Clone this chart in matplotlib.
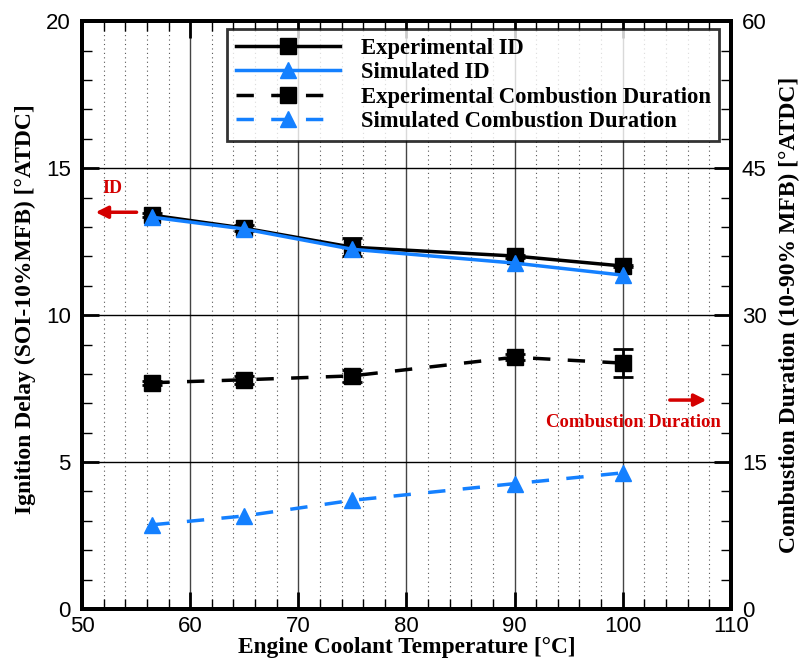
import matplotlib
matplotlib.use("Agg")
import matplotlib.pyplot as plt
from matplotlib.ticker import MultipleLocator

# Engine coolant temperature sweep
temperature = [56.5, 65, 75, 90, 100]

# Ignition delay, SOI to 10% MFB [deg ATDC] (left axis)
exp_id = [13.40, 12.96, 12.31, 12.01, 11.67]
exp_id_err = [0.06, 0.10, 0.30, 0.05, 0.05]
sim_id = [13.33, 12.93, 12.24, 11.77, 11.36]

# Combustion duration, 10-90% MFB [deg ATDC] (right axis)
exp_cd = [23.1, 23.4, 23.8, 25.7, 25.1]
exp_cd_err = [0.2, 0.4, 0.6, 0.3, 1.4]
sim_cd = [8.6, 9.5, 11.1, 12.8, 13.9]

x_ticks = [50, 60, 70, 80, 90, 100, 110]
left_ticks = [0, 5, 10, 15, 20]
right_ticks = [0, 15, 30, 45, 60]

BLUE = "#1480ff"
RED = "#d40000"
SERIF = "Liberation Serif"
SANS = "Liberation Sans"

fig = plt.figure(figsize=(8.01, 6.62), dpi=100)
ax = fig.add_axes([0.1024, 0.080, 0.810, 0.888])
ax2 = ax.twinx()

ax.set_xlim(50, 110)
ax.set_ylim(0, 20)
ax2.set_ylim(0, 60)

ax.xaxis.set_major_locator(MultipleLocator(10))
ax.xaxis.set_minor_locator(MultipleLocator(2))
ax.yaxis.set_major_locator(MultipleLocator(5))
ax.yaxis.set_minor_locator(MultipleLocator(1))
ax2.yaxis.set_major_locator(MultipleLocator(15))
ax2.yaxis.set_minor_locator(MultipleLocator(3))

# grid: solid major verticals, dotted minor verticals, solid major horizontals
for xv in range(52, 110, 2):
    if xv % 10:
        ax.axvline(xv, color="#555555", lw=0.8, ls=(0, (1, 3)), zorder=0)
for xv in x_ticks[1:-1]:
    ax.axvline(xv, color="#444444", lw=1.0, zorder=0)
for yv in left_ticks[1:-1]:
    ax.axhline(yv, color="black", lw=1.0, zorder=0)

lw = 2.5
h1, = ax.plot(temperature, exp_id, color="black", lw=lw, marker="s", ms=11, zorder=3,
              label="Experimental ID")
ax.errorbar(temperature, exp_id, yerr=exp_id_err, fmt="none", ecolor="black",
            elinewidth=2, capsize=7, capthick=2, zorder=3)
h2, = ax.plot(temperature, sim_id, color=BLUE, lw=lw, marker="^", ms=12, zorder=4,
              label="Simulated ID")
h3, = ax2.plot(temperature, exp_cd, color="black", lw=lw, ls=(0, (5, 5)), marker="s", ms=11,
               zorder=3, label="Experimental Combustion Duration")
ax2.errorbar(temperature, exp_cd, yerr=exp_cd_err, fmt="none", ecolor="black",
             elinewidth=2, capsize=7, capthick=2, zorder=3)
h4, = ax2.plot(temperature, sim_cd, color=BLUE, lw=lw, ls=(0, (5, 5)), marker="^", ms=12,
               zorder=4, label="Simulated Combustion Duration")

# ticks
ax.set_xticks(x_ticks)
ax.set_yticks(left_ticks)
ax2.set_yticks(right_ticks)
for a in (ax, ax2):
    a.tick_params(which="major", direction="in", length=12, width=2.0, labelsize=16)
    a.tick_params(which="minor", direction="in", length=7, width=1.0)
    for lab in a.get_xticklabels() + a.get_yticklabels():
        lab.set_fontfamily(SANS)
    for s in a.spines.values():
        s.set_linewidth(2.8)
ax.tick_params(axis="x", which="both", top=True, pad=5)
ax.tick_params(axis="y", which="both", right=False, pad=8)
ax2.tick_params(axis="y", which="both", pad=8)

ax.set_xlabel("Engine Coolant Temperature [°C]", family=SERIF, weight="bold", fontsize=16.8)
ax.xaxis.set_label_coords(0.5, -0.066)
ax.xaxis.label.set_va("center")
ax.set_ylabel("Ignition Delay (SOI-10%MFB) [°ATDC]", family=SERIF, weight="bold",
              fontsize=17)
ax.yaxis.set_label_coords(-0.088, 0.51)
ax.yaxis.label.set_va("center")
ax2.set_ylabel("Combustion Duration (10-90% MFB) [°ATDC]", family=SERIF, weight="bold",
               fontsize=17)
ax2.yaxis.set_label_coords(1.090, 0.5)
ax2.yaxis.label.set_va("center")

# direction hints for which axis each pair of curves uses
ax.annotate("", xy=(51.0, 13.5), xytext=(55.3, 13.5),
            arrowprops=dict(arrowstyle="-|>", color=RED, lw=2.5, mutation_scale=18))
ax.text(52.77, 14.3, "ID", color=RED, family=SERIF, weight="bold", fontsize=13,
        ha="center", va="center")
ax.annotate("", xy=(108.0, 7.11), xytext=(104.1, 7.11),
            arrowprops=dict(arrowstyle="-|>", color=RED, lw=2.5, mutation_scale=18))
ax.text(101.0, 6.35, "Combustion Duration", color=RED, family=SERIF, weight="bold",
        fontsize=13.4, ha="center", va="center")

leg = ax2.legend(handles=[h1, h2, h3, h4], loc="upper right",
                 bbox_to_anchor=(0.982, 0.986), frameon=True, fancybox=False,
                 prop=dict(family=SERIF, weight="bold", size=16.3), handlelength=4.6,
                 handletextpad=0.9, labelspacing=0.15, borderpad=0.38, borderaxespad=0)
leg.get_frame().set_edgecolor("black")
leg.get_frame().set_linewidth(2.0)
leg.set_zorder(10)

fig.savefig("out.png", dpi=100)
